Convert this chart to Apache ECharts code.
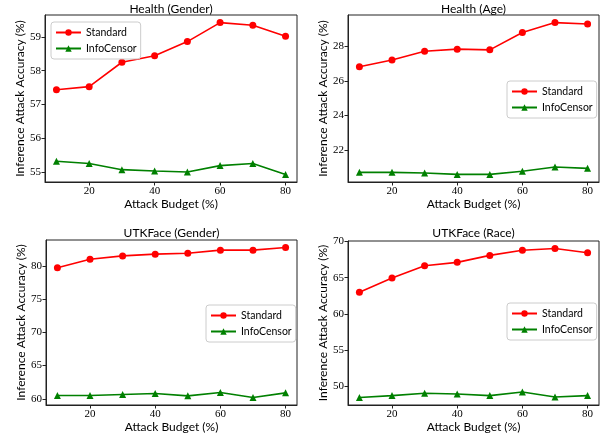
<!DOCTYPE html>
<html><head><meta charset="utf-8">
<script src="https://cdn.jsdelivr.net/npm/echarts@6/dist/echarts.min.js"></script>
<style>html,body{margin:0;padding:0;background:#fff}#c{width:611px;height:442px}</style>
</head><body><div id="c"></div>
<script>
const budgets = [10, 20, 30, 40, 50, 60, 70, 80];
const xTicks = [20, 40, 60, 80];

const titles = ['Health (Gender)', 'Health (Age)', 'UTKFace (Gender)', 'UTKFace (Race)'];

const hgStandard = [57.44, 57.53, 58.25, 58.44, 58.86, 59.42, 59.34, 59.02];
const hgInfo     = [55.33, 55.26, 55.08, 55.04, 55.01, 55.20, 55.26, 54.94];
const haStandard = [26.83, 27.22, 27.73, 27.85, 27.81, 28.82, 29.39, 29.31];
const haInfo     = [20.71, 20.71, 20.67, 20.59, 20.59, 20.77, 21.02, 20.94];
const ugStandard = [79.7, 81.0, 81.5, 81.76, 81.9, 82.36, 82.36, 82.76];
const ugInfo     = [60.5, 60.5, 60.65, 60.8, 60.45, 60.95, 60.2, 60.9];
const urStandard = [63.0, 64.96, 66.65, 67.12, 68.08, 68.8, 69.04, 68.45];
const urInfo     = [48.45, 48.72, 49.04, 48.95, 48.72, 49.22, 48.53, 48.72];

const yTicks = [
  [55, 56, 57, 58, 59],
  [22, 24, 26, 28],
  [60, 65, 70, 75, 80],
  [50, 55, 60, 65, 70]
];
const standardSets = [hgStandard, haStandard, ugStandard, urStandard];
const infoSets = [hgInfo, haInfo, ugInfo, urInfo];

const grids = [
  {left: 45, top: 15, width: 252, height: 167},
  {left: 348, top: 15, width: 251, height: 167},
  {left: 46, top: 240, width: 251, height: 165},
  {left: 348, top: 241, width: 251, height: 164}
];
const titleTops = [3, 3, 227, 227];
const legendPos = [
  {left: 51, top: 22},
  {left: 507, top: 81},
  {left: 206, top: 305},
  {left: 507, top: 303}
];

function pad(arr) {
  const mn = Math.min(...arr), mx = Math.max(...arr);
  const m = (mx - mn) * 0.05;
  return [mn - m, mx + m];
}

const sansFont = 'Lato';
const serifFont = 'Liberation Serif';

const option = {
  animation: false,
  backgroundColor: '#fff',
  title: [], grid: [], xAxis: [], yAxis: [], series: [], legend: []
};

for (let i = 0; i < 4; i++) {
  const g = grids[i];
  option.grid.push(Object.assign({show: true, borderColor: '#222', borderWidth: 1, backgroundColor: 'transparent'}, g));
  option.title.push({
    text: titles[i], left: g.left + g.width / 2, top: titleTops[i], textAlign: 'center', padding: 0,
    textStyle: {fontFamily: sansFont, fontSize: 12, fontWeight: 'normal', color: '#000'}
  });
  const xr = pad(budgets);
  option.xAxis.push({
    type: 'value', gridIndex: i, min: xr[0], max: xr[1],
    name: 'Attack Budget (%)', nameLocation: 'middle', nameGap: 16,
    nameTextStyle: {fontFamily: sansFont, fontSize: 12, color: '#000'},
    axisLine: {show: true, onZero: false, lineStyle: {color: '#222', width: 1}},
    axisTick: {show: true, length: 3.5, lineStyle: {color: '#222'}, customValues: xTicks},
    axisLabel: {fontFamily: serifFont, fontSize: 11, color: '#000', margin: 4, customValues: xTicks},
    splitLine: {show: false}
  });
  const yr = pad(standardSets[i].concat(infoSets[i]));
  option.yAxis.push({
    type: 'value', gridIndex: i, min: yr[0], max: yr[1],
    name: 'Inference Attack Accuracy (%)', nameLocation: 'middle', nameGap: i % 2 === 0 ? 16 : 19,
    nameTextStyle: {fontFamily: sansFont, fontSize: 12, color: '#000'},
    axisLine: {show: true, onZero: false, lineStyle: {color: '#222', width: 1}},
    axisTick: {show: true, length: 3.5, lineStyle: {color: '#222'}, customValues: yTicks[i]},
    axisLabel: {fontFamily: serifFont, fontSize: 11, color: '#000', margin: 4, customValues: yTicks[i]},
    splitLine: {show: false}
  });
  option.series.push({
    name: 'Standard', type: 'line', xAxisIndex: i, yAxisIndex: i,
    data: budgets.map((b, k) => [b, standardSets[i][k]]),
    symbol: 'circle', symbolSize: 7, color: '#ff0000',
    lineStyle: {width: 1.6, color: '#ff0000'}, itemStyle: {color: '#ff0000'}
  });
  option.series.push({
    name: 'InfoCensor', type: 'line', xAxisIndex: i, yAxisIndex: i,
    data: budgets.map((b, k) => [b, infoSets[i][k]]),
    symbol: 'triangle', symbolSize: 7, color: '#008000',
    lineStyle: {width: 1.6, color: '#008000'}, itemStyle: {color: '#008000'}
  });
  option.legend.push(Object.assign({
    orient: 'vertical', data: ['Standard', 'InfoCensor'],
    itemWidth: 25, itemHeight: 8, itemGap: 3, padding: [4, 4, 4, 4],
    backgroundColor: 'rgba(255,255,255,0.8)', borderColor: '#cccccc', borderWidth: 1, borderRadius: 3,
    textStyle: {fontFamily: sansFont, fontSize: 10.5, color: '#000', lineHeight: 13}
  }, legendPos[i]));
}

const chart = echarts.init(document.getElementById('c'), null, {renderer: 'canvas'});
chart.setOption(option);
</script>
</body></html>
